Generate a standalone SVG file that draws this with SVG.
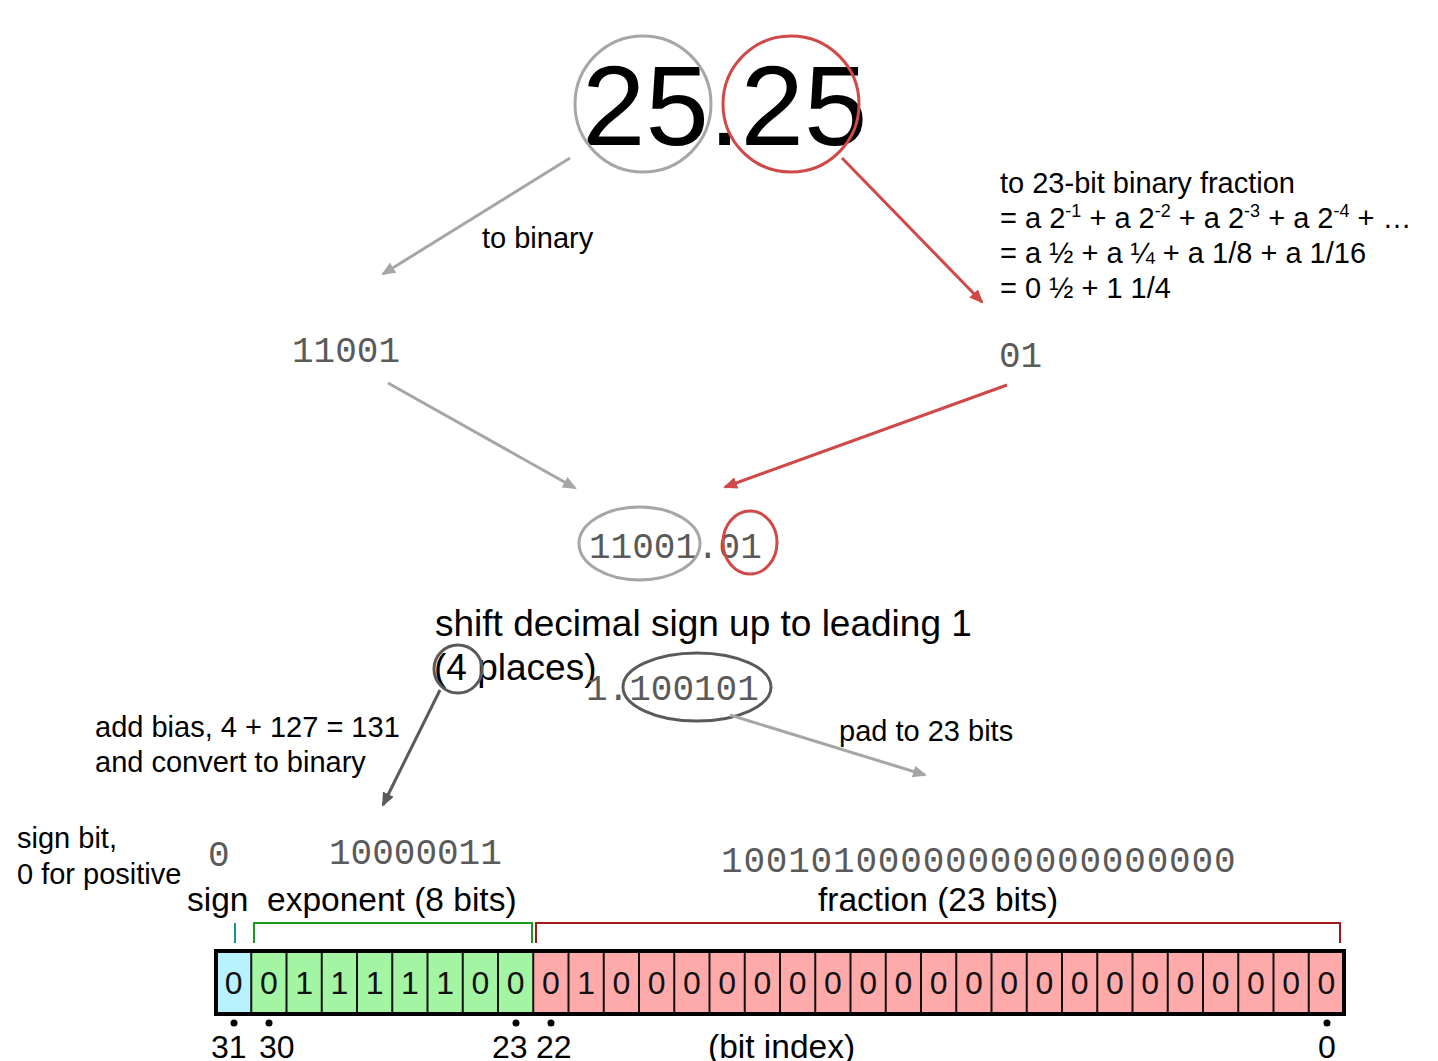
<svg xmlns="http://www.w3.org/2000/svg" width="1438" height="1061" viewBox="0 0 1438 1061">
<style>
.t{font-family:"Liberation Sans",Arial,sans-serif;fill:#000}
.a{font-size:29px}
.m{font-family:"Liberation Mono","Courier New",monospace;font-size:36px;fill:#5a5a5a}
.big{font-size:114px}
.cell{stroke:#111;stroke-width:2}
.bit{font-family:"Liberation Sans",Arial,sans-serif;font-size:32px;text-anchor:middle;fill:#111}
.lg{stroke:#a6a6a6;stroke-width:3;fill:none}
.rd{stroke:#d04848;stroke-width:3;fill:none}
.dk{stroke:#5a5a5a;stroke-width:3;fill:none}
</style>
<defs>
<marker id="ag" markerWidth="14" markerHeight="12" refX="12" refY="6" orient="auto" markerUnits="userSpaceOnUse"><path d="M0,0 L14,6 L0,12 Z" fill="#a6a6a6"/></marker>
<marker id="ar" markerWidth="14" markerHeight="12" refX="12" refY="6" orient="auto" markerUnits="userSpaceOnUse"><path d="M0,0 L14,6 L0,12 Z" fill="#d04848"/></marker>
<marker id="ad" markerWidth="14" markerHeight="12" refX="12" refY="6" orient="auto" markerUnits="userSpaceOnUse"><path d="M0,0 L14,6 L0,12 Z" fill="#5a5a5a"/></marker>
</defs>
<rect width="1438" height="1061" fill="#fff"/>

<g id="n-number">
<text class="t big" x="582" y="145">25.25</text>
<circle class="lg" cx="643" cy="104" r="68"/>
<circle class="rd" cx="791" cy="104" r="68"/>
</g>

<g id="n-int">
<text class="m" x="292" y="362">11001</text>
</g>

<g id="n-frac-note">
<text class="t a" x="1000" y="193">to 23-bit binary fraction</text>
<text class="t a" x="1000" y="228">= a 2<tspan font-size="18" dy="-11">-1</tspan><tspan dy="11"> + a 2</tspan><tspan font-size="18" dy="-11">-2</tspan><tspan dy="11"> + a 2</tspan><tspan font-size="18" dy="-11">-3</tspan><tspan dy="11"> + a 2</tspan><tspan font-size="18" dy="-11">-4</tspan><tspan dy="11"> + …</tspan></text>
<text class="t a" x="1000" y="263">= a ½ + a ¼ + a 1/8 + a 1/16</text>
<text class="t a" x="1000" y="298">= 0 ½ + 1 1/4</text>
</g>

<g id="n-frac">
<text class="m" x="999" y="367">01</text>
</g>

<g id="n-combined">
<text class="m" x="589" y="558">11001.01</text>
<ellipse class="lg" cx="639.5" cy="543.5" rx="60.5" ry="36.5"/>
<ellipse class="rd" cx="750" cy="542.5" rx="27" ry="31.5"/>
</g>

<g id="n-shift">
<text class="t" font-size="37" x="435" y="636">shift decimal sign up to leading 1</text>
<text class="t" font-size="37" x="434" y="680">(4 places)</text>
<circle class="dk" cx="458" cy="669" r="24"/>
</g>

<g id="n-normalized">
<text class="m" x="586" y="700">1.100101</text>
<ellipse class="dk" cx="697" cy="687" rx="74" ry="34"/>
</g>

<g id="n-labels">
<text class="t a" x="482" y="248">to binary</text>
<text class="t a" x="839" y="741">pad to 23 bits</text>
<text class="t a" x="95" y="737">add bias, 4 + 127 = 131</text>
<text class="t a" x="95" y="772">and convert to binary</text>
<text class="t a" x="17" y="848">sign bit,</text>
<text class="t a" x="17" y="884">0 for positive</text>
</g>

<g id="n-values">
<text class="m" x="208" y="866">0</text>
<text class="m" x="329" y="864">10000011</text>
<text class="m" x="721" y="872" font-size="37" letter-spacing="0.8">10010100000000000000000</text>
</g>

<g id="n-field-labels">
<text class="t" font-size="33.5" x="187" y="911">sign</text>
<text class="t" font-size="33.5" x="267" y="911">exponent (8 bits)</text>
<text class="t" font-size="33.5" x="818" y="911">fraction (23 bits)</text>
<path d="M235,923 V943" stroke="#1a9090" stroke-width="2" fill="none"/>
<path d="M254,943 V923 H532 V943" stroke="#1a9a1a" stroke-width="2" fill="none"/>
<path d="M536,943 V923 H1340 V943" stroke="#a01818" stroke-width="2" fill="none"/>
</g>

<g id="n-bits">
<rect x="216" y="951" width="35.25" height="63" fill="#b8f2ff"/>
<rect x="251.25" y="951" width="282" height="63" fill="#a3f5a3"/>
<rect x="533.25" y="951" width="810.75" height="63" fill="#ffaaaa"/>
<path class="cell" d="M251.25,951V1014M286.5,951V1014M321.75,951V1014M357,951V1014M392.25,951V1014M427.5,951V1014M462.75,951V1014M498,951V1014M533.25,951V1014M568.5,951V1014M603.75,951V1014M639,951V1014M674.25,951V1014M709.5,951V1014M744.75,951V1014M780,951V1014M815.25,951V1014M850.5,951V1014M885.75,951V1014M921,951V1014M956.25,951V1014M991.5,951V1014M1026.75,951V1014M1062,951V1014M1097.25,951V1014M1132.5,951V1014M1167.75,951V1014M1203,951V1014M1238.25,951V1014M1273.5,951V1014M1308.75,951V1014"/>
<rect x="216" y="951" width="1128" height="63" fill="none" stroke="#000" stroke-width="4"/>
<text class="bit" y="994"><tspan x="233.6">0</tspan><tspan x="268.9">0</tspan><tspan x="304.1">1</tspan><tspan x="339.4">1</tspan><tspan x="374.6">1</tspan><tspan x="409.9">1</tspan><tspan x="445.1">1</tspan><tspan x="480.4">0</tspan><tspan x="515.6">0</tspan><tspan x="550.9">0</tspan><tspan x="586.1">1</tspan><tspan x="621.4">0</tspan><tspan x="656.6">0</tspan><tspan x="691.9">0</tspan><tspan x="727.1">0</tspan><tspan x="762.4">0</tspan><tspan x="797.6">0</tspan><tspan x="832.9">0</tspan><tspan x="868.1">0</tspan><tspan x="903.4">0</tspan><tspan x="938.6">0</tspan><tspan x="973.9">0</tspan><tspan x="1009.1">0</tspan><tspan x="1044.4">0</tspan><tspan x="1079.6">0</tspan><tspan x="1114.9">0</tspan><tspan x="1150.1">0</tspan><tspan x="1185.4">0</tspan><tspan x="1220.6">0</tspan><tspan x="1255.9">0</tspan><tspan x="1291.1">0</tspan><tspan x="1326.4">0</tspan></text>
</g>

<g id="n-index">
<circle cx="234" cy="1023" r="3.5"/>
<circle cx="269" cy="1023" r="3.5"/>
<circle cx="516" cy="1023" r="3.5"/>
<circle cx="551" cy="1023" r="3.5"/>
<circle cx="1327" cy="1023" r="3.5"/>
<text class="t" font-size="32" y="1058"><tspan x="211">31</tspan><tspan x="259">30</tspan><tspan x="492">23</tspan><tspan x="536">22</tspan><tspan x="708" font-size="33.5">(bit index)</tspan><tspan x="1318">0</tspan></text>
</g>

<g id="connectors">
<line class="lg" x1="570" y1="158" x2="383" y2="274" marker-end="url(#ag)"/>
<line class="rd" x1="842" y1="158" x2="982" y2="302" marker-end="url(#ar)"/>
<line class="lg" x1="388" y1="383" x2="575" y2="488" marker-end="url(#ag)"/>
<line class="rd" x1="1007" y1="385" x2="725" y2="487" marker-end="url(#ar)"/>
<line class="dk" x1="440" y1="690" x2="383" y2="805" marker-end="url(#ad)"/>
<line class="lg" x1="730" y1="715" x2="925" y2="775" marker-end="url(#ag)"/>
</g>
</svg>
